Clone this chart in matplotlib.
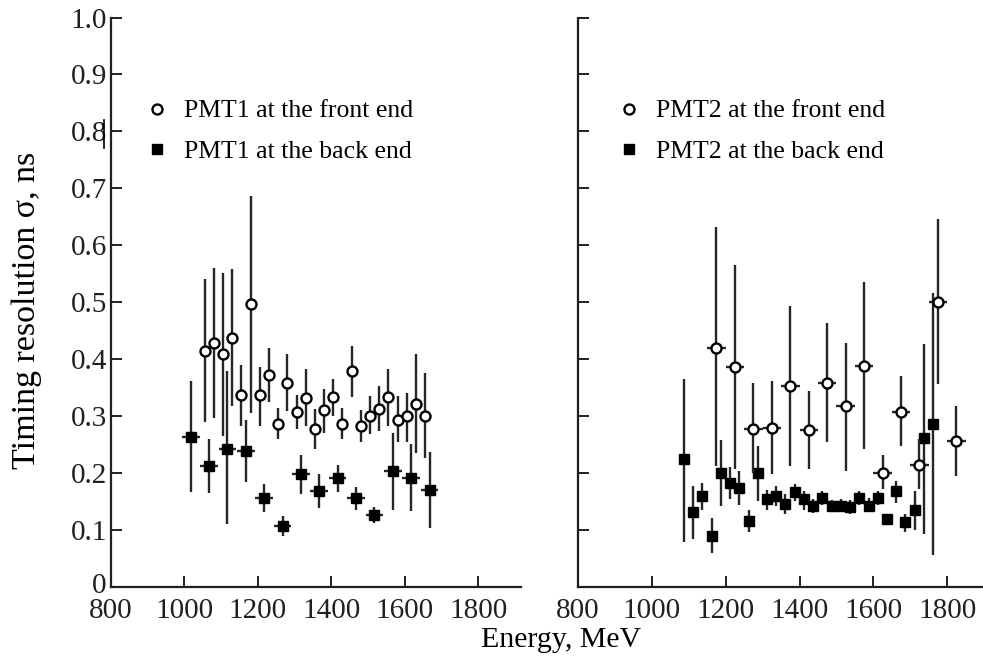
import matplotlib
matplotlib.use("Agg")
import matplotlib.pyplot as plt
import matplotlib.transforms as mtransforms
from matplotlib.lines import Line2D
import numpy as np

plt.rcParams['font.family'] = ['Liberation Serif', 'DejaVu Serif']

# --- PMT1 (left panel) ---
pmt1_front_e = [1055, 1080, 1105, 1130, 1155, 1180, 1205, 1230, 1255, 1280, 1305, 1330, 1355,
                1380, 1405, 1430, 1455, 1480, 1505, 1530, 1555, 1580, 1605, 1630, 1655]
pmt1_front_s = [0.414, 0.428, 0.410, 0.437, 0.337, 0.497, 0.337, 0.372, 0.287, 0.359, 0.308, 0.331, 0.277,
                0.310, 0.333, 0.287, 0.379, 0.282, 0.301, 0.313, 0.333, 0.293, 0.300, 0.321, 0.300]
pmt1_front_hi = [0.541, 0.561, 0.551, 0.558, 0.389, 0.687, 0.387, 0.420, 0.315, 0.410, 0.338, 0.382, 0.312,
                 0.348, 0.365, 0.315, 0.423, 0.311, 0.335, 0.353, 0.383, 0.335, 0.341, 0.409, 0.375]
pmt1_front_lo = [0.289, 0.296, 0.266, 0.318, 0.283, 0.306, 0.283, 0.325, 0.259, 0.309, 0.277, 0.283, 0.242,
                 0.271, 0.300, 0.259, 0.334, 0.254, 0.268, 0.274, 0.283, 0.254, 0.255, 0.236, 0.226]

pmt1_back_e = [1017, 1067, 1117, 1167, 1217, 1267, 1317, 1367, 1417, 1467, 1517, 1567, 1617, 1667]
pmt1_back_s = [0.263, 0.213, 0.243, 0.239, 0.156, 0.107, 0.198, 0.169, 0.192, 0.156, 0.127, 0.203, 0.192, 0.171]
pmt1_back_hi = [0.361, 0.259, 0.379, 0.293, 0.180, 0.124, 0.231, 0.199, 0.215, 0.176, 0.140, 0.271, 0.251, 0.237]
pmt1_back_lo = [0.167, 0.165, 0.110, 0.184, 0.132, 0.090, 0.163, 0.138, 0.166, 0.135, 0.113, 0.135, 0.133, 0.104]

# --- PMT2 (right panel) ---
pmt2_front_e = [1175, 1225, 1275, 1325, 1375, 1425, 1475, 1525, 1575, 1625, 1675, 1725, 1775, 1825]
pmt2_front_s = [0.420, 0.386, 0.277, 0.280, 0.353, 0.276, 0.359, 0.317, 0.388, 0.200, 0.308, 0.214, 0.501, 0.257]
pmt2_front_hi = [0.632, 0.565, 0.358, 0.362, 0.493, 0.345, 0.464, 0.429, 0.536, 0.231, 0.370, 0.259, 0.647, 0.318]
pmt2_front_lo = [0.212, 0.207, 0.200, 0.198, 0.212, 0.207, 0.255, 0.204, 0.242, 0.172, 0.247, 0.172, 0.357, 0.195]

pmt2_back_e = [1088, 1112, 1137, 1162, 1187, 1212, 1237, 1262, 1287, 1312, 1337, 1362, 1387, 1412,
               1437, 1462, 1487, 1512, 1537, 1562, 1587, 1612, 1637, 1662, 1687, 1712, 1737, 1762]
pmt2_back_s = [0.224, 0.132, 0.160, 0.090, 0.201, 0.182, 0.173, 0.116, 0.200, 0.154, 0.160, 0.146, 0.166, 0.154,
               0.142, 0.156, 0.142, 0.143, 0.141, 0.156, 0.143, 0.156, 0.120, 0.168, 0.114, 0.135, 0.261, 0.287]
pmt2_back_hi = [0.366, 0.177, 0.183, 0.121, 0.258, 0.210, 0.203, 0.136, 0.248, 0.170, 0.177, 0.163, 0.180, 0.169,
                0.154, 0.168, 0.153, 0.154, 0.153, 0.168, 0.156, 0.168, 0.126, 0.187, 0.129, 0.169, 0.426, 0.516]
pmt2_back_lo = [0.079, 0.085, 0.135, 0.059, 0.142, 0.154, 0.144, 0.096, 0.151, 0.136, 0.142, 0.129, 0.151, 0.135,
                0.130, 0.144, 0.131, 0.132, 0.129, 0.144, 0.131, 0.144, 0.114, 0.147, 0.097, 0.100, 0.093, 0.057]

y_ticks = [0, 0.1, 0.2, 0.3, 0.4, 0.5, 0.6, 0.7, 0.8, 0.9, 1.0]
y_tick_labels = ["0", "0.1", "0.2", "0.3", "0.4", "0.5", "0.6", "0.7", "0.8", "0.9", "1.0"]
x_ticks = [800, 1000, 1200, 1400, 1600, 1800]


def yerr(s, lo, hi):
    s = np.array(s)
    return [s - np.array(lo), np.array(hi) - s]


fig = plt.figure(figsize=(9.83, 6.59), dpi=100)
ax1 = fig.add_axes([111 / 983, 1 - 587 / 659, 410 / 983, 569.5 / 659])
ax2 = fig.add_axes([578 / 983, 1 - 587 / 659, 405 / 983, 569.5 / 659])

err_kw = dict(ls='none', ecolor='#262626', elinewidth=1.7, capsize=0)
open_kw = dict(marker='o', ms=7.2, mfc='white', mec='black', mew=1.7)
fill_kw = dict(marker='s', ms=7.2, mfc='black', mec='black')

# left panel
ax1.errorbar(pmt1_front_e, pmt1_front_s, yerr=yerr(pmt1_front_s, pmt1_front_lo, pmt1_front_hi),
             zorder=3, **err_kw, **open_kw)
ax1.errorbar(pmt1_back_e, pmt1_back_s, yerr=yerr(pmt1_back_s, pmt1_back_lo, pmt1_back_hi), xerr=24,
             zorder=3, **err_kw, **fill_kw)

# right panel
ax2.errorbar(pmt2_back_e, pmt2_back_s, yerr=yerr(pmt2_back_s, pmt2_back_lo, pmt2_back_hi),
             zorder=3, **err_kw, **fill_kw)
ax2.errorbar(pmt2_front_e, pmt2_front_s, yerr=yerr(pmt2_front_s, pmt2_front_lo, pmt2_front_hi), xerr=25,
             zorder=4, **err_kw, **open_kw)

for ax, xmax in ((ax1, 1916), (ax2, 1897)):
    ax.set_xlim(800, xmax)
    ax.set_ylim(0, 1.0)
    ax.spines['top'].set_visible(False)
    ax.spines['right'].set_visible(False)
    for sp in ('left', 'bottom'):
        ax.spines[sp].set_linewidth(1.6)
        ax.spines[sp].set_color('#202020')
    ax.set_xticks(x_ticks)
    ax.set_xticklabels([str(t) for t in x_ticks])
    ax.set_yticks(y_ticks)
    ax.tick_params(direction='in', length=8, width=1.4, labelsize=21, colors='#202020')
    ax.tick_params(axis='x', pad=8)
    ax.tick_params(axis='y', pad=3)

ax1.set_yticklabels(y_tick_labels)
ax2.set_yticklabels([])

# the "0" sits a little higher in the original so it does not run into "800"
zero_lbl = ax1.get_yticklabels()[0]
zero_lbl.set_transform(zero_lbl.get_transform() +
                       mtransforms.ScaledTranslation(0, 4 / 100, fig.dpi_scale_trans))

fig.text(27 / 983, 1 - 310 / 659, "Timing resolution σ, ns", fontsize=24.5, rotation=90,
         ha='center', va='center')
fig.text(561 / 983, 1 - 640 / 659, "Energy, MeV", fontsize=21.5, ha='center', va='center')

# legends
for ax, n, x0 in ((ax1, 1, 0.08), (ax2, 2, 0.095)):
    handles = [Line2D([], [], ls='none', **open_kw), Line2D([], [], ls='none', **fill_kw)]
    labels = [f"PMT{n} at the front end", f"PMT{n} at the back end"]
    ax.legend(handles, labels, loc='upper left', bbox_to_anchor=(x0, 0.856), frameon=False,
              fontsize=18.5, handlelength=1.0, handletextpad=0.55, labelspacing=0.68,
              borderpad=0, borderaxespad=0)

# stray mark next to 0.8 in the original scan
fig.add_artist(Line2D([104 / 983, 104 / 983], [1 - 120 / 659, 1 - 148 / 659], color='black', lw=1.2))

fig.savefig("out.png", dpi=100)
